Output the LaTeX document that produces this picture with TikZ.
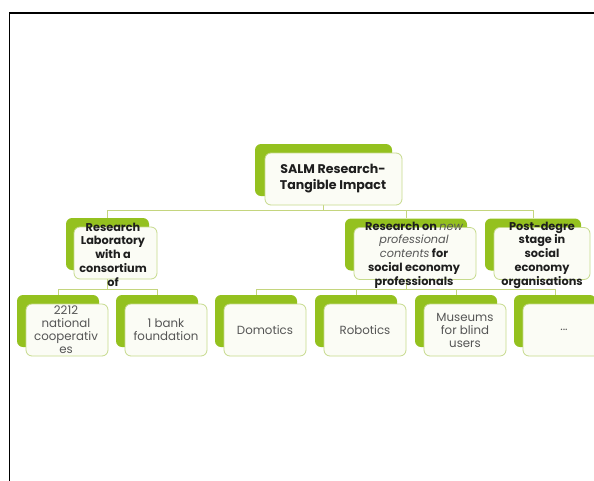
\documentclass[tikz,border=0pt]{standalone}
\usepackage{fontspec}
\setmainfont{Poppins}
\definecolor{leaf}{HTML}{94C11F}
\definecolor{rim}{HTML}{C6DA8C}
\definecolor{paper}{HTML}{FBFCF5}
\definecolor{wire}{HTML}{C4D57E}
\definecolor{ink}{HTML}{1E1E1E}
\definecolor{soft}{HTML}{555555}
\begin{document}
\begin{tikzpicture}[x=1pt,y=-1pt,
  backbox/.style={fill=leaf, rounded corners=6pt, inner sep=0pt, minimum height=52pt},
  frontbox/.style={draw=rim, fill=paper, line width=0.8pt, rounded corners=6pt, inner sep=0pt, minimum height=52pt},
  wirestyle/.style={draw=wire, line width=1pt},
  headtext/.style={align=center, text=ink, font=\bfseries\fontsize{12.6}{16}\selectfont, inner sep=0pt},
  midtext/.style={align=center, text=ink, font=\bfseries\fontsize{11.3}{13.7}\selectfont, inner sep=0pt},
  leaftext/.style={align=center, text=soft, font=\fontsize{11.8}{13}\selectfont, inner sep=0pt}]
\useasboundingbox (0,0) rectangle (594,480);
\begin{scope}
\clip (0,0) rectangle (594,480);
\fill[white] (0,0) rectangle (594,480);

% bus levels
\coordinate (busA) at (0,210);
\coordinate (busB) at (0,289);

% back (green) boxes
\node[backbox, minimum width=137pt] (top-b) at (323.5,170) {};
\node[backbox, minimum width=83pt] (lab-b) at (107.5,244) {};
\node[backbox, minimum width=122pt] (res-b) at (406,244.5) {};
\node[backbox, minimum width=96pt] (post-b) at (533,244.5) {};
\node[backbox, minimum width=82pt] (coop-b) at (58,321) {};
\node[backbox, minimum width=82pt] (bank-b) at (157,321) {};
\node[backbox, minimum width=82pt] (dom-b) at (256,321) {};
\node[backbox, minimum width=82pt] (rob-b) at (356,321) {};
\node[backbox, minimum width=82pt] (mus-b) at (456,321) {};
\node[backbox, minimum width=82pt] (dots-b) at (555,321) {};

% connectors, behind the front boxes
\draw[wirestyle] (top-b.center) -- (top-b.center |- busA) -| (lab-b.north);
\draw[wirestyle] (top-b.center |- busA) -| (res-b.north);
\draw[wirestyle] (top-b.center |- busA) -| (post-b.north);
\draw[wirestyle] (lab-b.center) -- (lab-b.center |- busB) -| (coop-b.north);
\draw[wirestyle] (lab-b.center |- busB) -| (bank-b.north);
\draw[wirestyle] (res-b.center) -- (res-b.center |- busB) -| (dom-b.north);
\draw[wirestyle] (res-b.center |- busB) -| (rob-b.north);
\draw[wirestyle] (res-b.center |- busB) -| (mus-b.north);
\draw[wirestyle] (res-b.center |- busB) -| (dots-b.north);

% front (white) boxes
\node[frontbox, minimum width=137pt] (top) at (333.5,179) {};
\node[frontbox, minimum width=83pt] (lab) at (115.5,253) {};
\node[frontbox, minimum width=122pt] (res) at (415,253.5) {};
\node[frontbox, minimum width=96pt] (post) at (542,253.5) {};
\node[frontbox, minimum width=82pt] (coop) at (67,330) {};
\node[frontbox, minimum width=82pt] (bank) at (166,330) {};
\node[frontbox, minimum width=82pt] (dom) at (265,330) {};
\node[frontbox, minimum width=82pt] (rob) at (365,330) {};
\node[frontbox, minimum width=82pt] (mus) at (465,330) {};
\node[frontbox, minimum width=82pt] (dots) at (564,330) {};

% texts
\node[headtext] (top-t) at (333,179) {SALM Research-\\Tangible Impact};
\node[midtext] (lab-t) at (113,254.5) {Research\\Laboratory\\with a\\consortium\\of};
\node[midtext] (res-t) at (414,255) {Research on \textmd{\itshape\color{soft}new}\\\textmd{\itshape\color{soft}professional}\\\textmd{\itshape\color{soft}contents} for\\social economy\\professionals};
\node[midtext] (post-t) at (542,255) {Post-degre\\stage in\\social\\economy\\organisations};
\node[leaftext] (coop-t) at (66,330) {2212\\national\\cooperativ\\es};
\node[leaftext] (bank-t) at (166,330) {1 bank\\foundation};
\node[leaftext] (dom-t) at (265,330) {Domotics};
\node[leaftext] (rob-t) at (365,330) {Robotics};
\node[leaftext] (mus-t) at (465,330) {Museums\\for blind\\users};
\node[leaftext] (dots-t) at (564,330) {...};

% page frame
\draw[line width=1.6pt] (9.5,481) -- (9.5,13) -- (595,13);
\end{scope}
\end{tikzpicture}
\end{document}
